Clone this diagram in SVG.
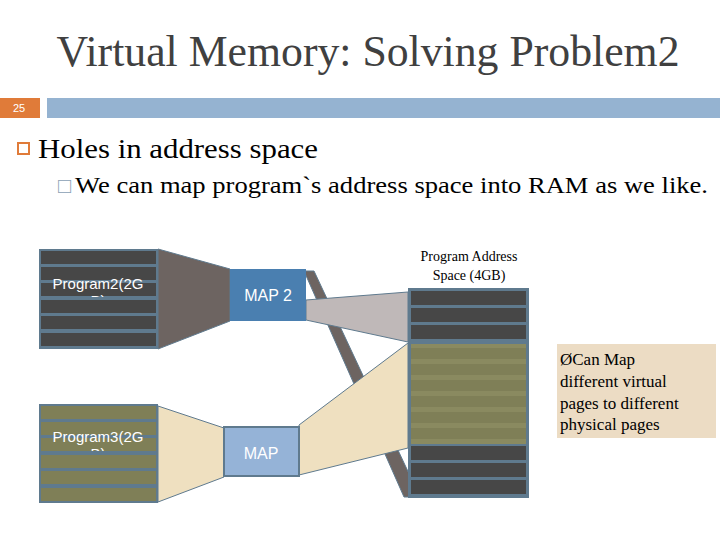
<svg xmlns="http://www.w3.org/2000/svg" width="720" height="540" viewBox="0 0 720 540">
<style>
.s{font-family:"Liberation Serif",serif}
.a{font-family:"Liberation Sans",sans-serif;fill:#fff}
.d{fill:#474747}
.o{fill:#7f7f57}
.fr{fill:#5f7a8e}
</style>
<defs>
<g id="darkrow"><rect x="0" y="0" width="115" height="13" class="d"/></g>
<g id="olrow"><rect x="0" y="0" width="115" height="13" class="o"/></g>
<clipPath id="c2"><rect x="39" y="249" width="119" height="48"/></clipPath>
<clipPath id="c3"><rect x="39" y="404" width="119" height="47"/></clipPath>
</defs>
<rect width="720" height="540" fill="#fff"/>
<text x="368" y="66" text-anchor="middle" class="s" font-size="44" fill="#404040" textLength="623" lengthAdjust="spacingAndGlyphs">Virtual Memory: Solving Problem2</text>
<rect x="0" y="98" width="40" height="20" fill="#e07b39"/>
<text x="13" y="112" font-family="Liberation Sans,sans-serif" font-size="11" fill="#fff">25</text>
<rect x="47" y="98" width="673" height="20" fill="#95b3d1"/>
<rect x="18" y="143" width="11" height="11" fill="none" stroke="#e07b39" stroke-width="2"/>
<text x="38" y="158" class="s" font-size="28" fill="#000" textLength="280" lengthAdjust="spacingAndGlyphs">Holes in address space</text>
<text x="58" y="193" class="s" font-size="22" fill="#8aa0b5">□</text>
<text x="75" y="193" class="s" font-size="23" fill="#000" textLength="633" lengthAdjust="spacingAndGlyphs">We can map program`s address space into RAM as we like.</text>
<g id="connectors">
<polygon points="304,271 314,271 412,480 412,497 404,497" fill="#6d6461" stroke="#5f7a8e"/>
<polygon points="158,249 230,269 230,321 158,349" fill="#6d6461" stroke="#5f7a8e"/>
<polygon points="158,406 224,428 224,477 158,502" fill="#efe0c0" stroke="#5f7a8e"/>
<polygon points="306,300 408,292 408,342 306,320" fill="#bfb8b8" stroke="#5f7a8e"/>
<polygon points="299,425 408,343 408,448 299,475" fill="#efe0c0" stroke="#5f7a8e"/>
</g>
<g id="program2">
<rect x="39" y="249" width="119" height="100" class="fr"/>
<use href="#darkrow" x="41" y="251"/><use href="#darkrow" x="41" y="267"/><use href="#darkrow" x="41" y="283"/><use href="#darkrow" x="41" y="300"/><use href="#darkrow" x="41" y="316"/><use href="#darkrow" x="41" y="333"/>
<g clip-path="url(#c2)">
<text x="98" y="289" text-anchor="middle" class="a" font-size="15">Program2(2G</text>
<text x="98" y="306" text-anchor="middle" class="a" font-size="15">B)</text>
</g>
</g>
<g id="program3">
<rect x="39" y="404" width="119" height="99" class="fr"/>
<use href="#olrow" x="41" y="406"/><use href="#olrow" x="41" y="422"/><use href="#olrow" x="41" y="438"/><use href="#olrow" x="41" y="455"/><use href="#olrow" x="41" y="471"/><use href="#olrow" x="41" y="488"/>
<g clip-path="url(#c3)">
<text x="98" y="442" text-anchor="middle" class="a" font-size="15">Program3(2G</text>
<text x="98" y="459" text-anchor="middle" class="a" font-size="15">B)</text>
</g>
</g>
<g id="map2">
<rect x="230" y="269" width="76" height="52" fill="#4a7fb0"/>
<text x="268" y="301" text-anchor="middle" class="a" font-size="16">MAP 2</text>
</g>
<g id="map">
<rect x="224" y="427" width="75" height="49" fill="#95b3d7" stroke="#5f7a8e" stroke-width="2"/>
<text x="261" y="459" text-anchor="middle" class="a" font-size="16">MAP</text>
</g>
<g id="address-space">
<text x="469" y="261" text-anchor="middle" class="s" font-size="14" fill="#000">Program Address</text>
<text x="469" y="280" text-anchor="middle" class="s" font-size="14" fill="#000">Space (4GB)</text>
<rect x="408" y="288" width="121" height="210" class="fr"/>
<rect x="411" y="291" width="115" height="14" class="d"/><rect x="411" y="308" width="115" height="14" class="d"/><rect x="411" y="325" width="115" height="14" class="d"/>
<rect x="411" y="344" width="115" height="100" fill="#8a8a60"/>
<rect x="411" y="348" width="115" height="11" class="o"/><rect x="411" y="364" width="115" height="11" class="o"/><rect x="411" y="380" width="115" height="11" class="o"/><rect x="411" y="396" width="115" height="11" class="o"/><rect x="411" y="412" width="115" height="11" class="o"/><rect x="411" y="428" width="115" height="11" class="o"/>
<rect x="411" y="446" width="115" height="14" class="d"/><rect x="411" y="463" width="115" height="14" class="d"/><rect x="411" y="480" width="115" height="14" class="d"/>
</g>
<g id="callout">
<rect x="557" y="344" width="159" height="94" fill="#ecdcc4"/>
<text class="s" font-size="17" fill="#000"><tspan x="560" y="365">ØCan Map</tspan><tspan x="560" y="387">different virtual</tspan><tspan x="560" y="409">pages to different</tspan><tspan x="560" y="430">physical pages</tspan></text>
</g>
</svg>
